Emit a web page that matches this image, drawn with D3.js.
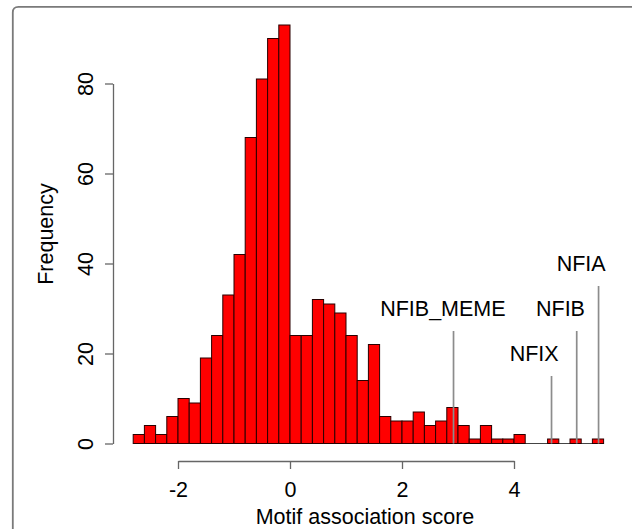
<!DOCTYPE html>
<html>
<head>
<meta charset="utf-8">
<script src="https://cdn.jsdelivr.net/npm/d3@7"></script>
<style>
  html, body { margin: 0; padding: 0; background: #fff; }
  svg { display: block; }
  text { font-family: "Liberation Sans", Arial, Helvetica, sans-serif; fill: #000; }
</style>
</head>
<body>
<svg id="chart" width="632" height="529"></svg>
<script>
// Histogram bins: start of the first bin, bin width, counts per bin
const binStart = -2.8;
const binWidth = 0.2;
const counts = [2, 4, 2, 6, 10, 9, 19, 24, 33, 42, 68, 81, 90, 93,
                24, 24, 32, 31, 29, 24, 14, 22, 6, 5, 5, 7, 4, 5, 8,
                4, 1, 4, 1, 1, 2, 0, 0, 1, 0, 1, 0, 1];

// Axis ticks
const xTicks = [-2, 0, 2, 4];
const yTicks = [0, 20, 40, 60, 80];

// Marked motifs: score position, marker height, label position
const motifNames = ["NFIB_MEME", "NFIX", "NFIB", "NFIA"];
const motifScores = [2.92, 4.67, 5.12, 5.51];
const motifHeights = [25, 15, 25, 35];
const labelX = [2.73, 4.36, 4.83, 5.2];
const labelY = [30, 20, 30, 40];

const xLabel = "Motif association score";
const yLabel = "Frequency";

const svg = d3.select("#chart");
const fontSize = "21.5px";

// Scales
const x = d3.scaleLinear().domain([-2, 4]).range([178, 514]);
const y = d3.scaleLinear().domain([0, 80]).range([443.5, 83.5]);

// Outer frame (left and top edges with rounded corner)
svg.append("path")
  .attr("d", "M12.8,529 V12.5 Q12.8,6.8 18.5,6.8 H632")
  .attr("fill", "none")
  .attr("stroke", "#7a7a7a")
  .attr("stroke-width", 1.8);

const bins = counts.map((c, i) => ({
  x0: binStart + i * binWidth,
  x1: binStart + (i + 1) * binWidth,
  count: c
}));

// Baseline under all bins (empty bins show as a flat line)
svg.append("line")
  .attr("x1", x(bins[0].x0))
  .attr("x2", x(bins[bins.length - 1].x1))
  .attr("y1", y(0))
  .attr("y2", y(0))
  .attr("stroke", "#444")
  .attr("stroke-width", 1);

// Bars
svg.append("g")
  .selectAll("rect")
  .data(bins.filter(d => d.count > 0))
  .join("rect")
  .attr("x", d => x(d.x0))
  .attr("width", d => x(d.x1) - x(d.x0))
  .attr("y", d => y(d.count))
  .attr("height", d => y(0) - y(d.count))
  .attr("fill", "#ff0000")
  .attr("stroke", "#2a0000")
  .attr("stroke-width", 1);

// Motif marker lines
const motifs = motifNames.map((n, i) => ({
  name: n, score: motifScores[i], h: motifHeights[i], lx: labelX[i], ly: labelY[i]
}));

svg.append("g")
  .selectAll("line")
  .data(motifs)
  .join("line")
  .attr("x1", d => x(d.score))
  .attr("x2", d => x(d.score))
  .attr("y1", y(0))
  .attr("y2", d => y(d.h))
  .attr("stroke", "#8c8c8c")
  .attr("stroke-width", 1.7);

svg.append("g")
  .selectAll("text")
  .data(motifs)
  .join("text")
  .attr("x", d => x(d.lx))
  .attr("y", d => y(d.ly))
  .attr("dy", "0.36em")
  .attr("text-anchor", "middle")
  .style("font-size", fontSize)
  .text(d => d.name);

// X axis
const xAxis = svg.append("g")
  .attr("transform", "translate(0,461)")
  .call(d3.axisBottom(x).tickValues(xTicks).tickSize(8).tickSizeOuter(0).tickFormat(d3.format("d")).tickPadding(0));
xAxis.select(".domain").attr("stroke", "#666").attr("stroke-width", 1.3);
xAxis.selectAll(".tick line").attr("stroke", "#666").attr("stroke-width", 1.3);
xAxis.selectAll(".tick text")
  .attr("y", 36)
  .attr("dy", 0)
  .style("font-size", fontSize)
  .style("font-family", "'Liberation Sans', Arial, sans-serif")
  .attr("fill", "#000")
  .text(d => d < 0 ? "-" + Math.abs(d) : d);

// Y axis
const yAxis = svg.append("g")
  .attr("transform", "translate(113,0)")
  .call(d3.axisLeft(y).tickValues(yTicks).tickSize(8).tickSizeOuter(0));
yAxis.select(".domain").attr("stroke", "#666").attr("stroke-width", 1.3);
yAxis.selectAll(".tick line").attr("stroke", "#666").attr("stroke-width", 1.3);
yAxis.selectAll(".tick text")
  .attr("transform", "rotate(-90)")
  .attr("x", 0)
  .attr("y", -20)
  .attr("dy", 0)
  .attr("text-anchor", "middle")
  .style("font-size", fontSize)
  .style("font-family", "'Liberation Sans', Arial, sans-serif")
  .attr("fill", "#000");

// Axis titles
svg.append("text")
  .attr("x", 365)
  .attr("y", 524)
  .attr("text-anchor", "middle")
  .style("font-size", fontSize)
  .text(xLabel);

svg.append("text")
  .attr("transform", "translate(53,234) rotate(-90)")
  .attr("text-anchor", "middle")
  .style("font-size", fontSize)
  .text(yLabel);
</script>
</body>
</html>
